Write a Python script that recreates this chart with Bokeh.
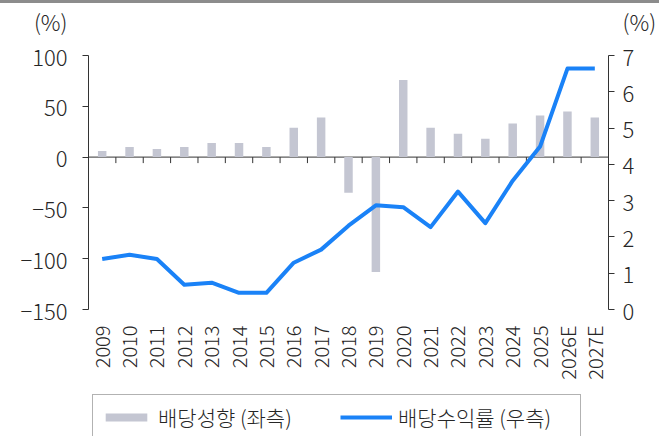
import numpy as np
from math import pi
from bokeh.plotting import figure
from bokeh.models import (Range1d, LinearAxis, FixedTicker, Legend, LegendItem, Span,
                          InlineStyleSheet)
from bokeh.core.properties import value
from bokeh.embed import file_html
from bokeh.resources import INLINE

years = ["2009", "2010", "2011", "2012", "2013", "2014", "2015", "2016", "2017",
         "2018", "2019", "2020", "2021", "2022", "2023", "2024", "2025", "2026E", "2027E"]
payout = [6, 10, 8, 10, 14, 14, 10, 29, 39, -35, -113, 76, 29, 23, 18, 33, 41, 45, 39]
div_yield = [1.39, 1.51, 1.39, 0.68, 0.74, 0.46, 0.46, 1.29, 1.65, 2.31, 2.87, 2.82,
             2.27, 3.25, 2.38, 3.55, 4.49, 6.64, 6.64]
left_ticks = [-150, -100, -50, 0, 50, 100]
right_ticks = [0, 1, 2, 3, 4, 5, 6, 7]
unit_text = "(%)"

FONT = '"Noto Sans CJK KR Light", "Noto Sans CJK KR"'
TXT = "#262626"
AX = "#333333"
n = len(years)
pos = [i + 0.5 for i in range(n)]
bounds = list(range(1, n))

# layout (pixels): plot height, value-axis top/bottom, unit caption row
H, W = 436, 666
TOP, BOT, CAP = 55, 309, 20
L_lo, L_hi = left_ticks[0], left_ticks[-1]
R_lo, R_hi = right_ticks[0], right_ticks[-1]
pxl = (BOT - TOP) / (L_hi - L_lo)
pxr = (BOT - TOP) / (R_hi - R_lo)
yr_left = Range1d(L_lo - (H - BOT) / pxl, L_hi + TOP / pxl)
yr_right = Range1d(R_lo - (H - BOT) / pxr, R_hi + TOP / pxr)
cap_left = L_hi + (TOP - CAP) / pxl
cap_right = R_hi + (TOP - CAP) / pxr

p = figure(width=W, height=H, x_range=Range1d(0, n), y_range=yr_left,
           output_backend="svg", toolbar_location=None, x_axis_location=None,
           y_axis_location=None,
           min_border_left=88, min_border_right=58, min_border_top=0, min_border_bottom=0)
p.extra_y_ranges = {"yld": yr_right}
p.grid.visible = False
p.outline_line_color = None
p.background_fill_color = "white"
p.border_fill_color = "white"
p.stylesheets = [InlineStyleSheet(css=(
    ":host { position: relative; }"
    ":host::after { content: ''; position: absolute; left: 0; top: 0; width: 659px;"
    " height: 3px; background: #8c8c8c; z-index: 10; pointer-events: none; }"))]

bars = p.vbar(x=pos, top=payout, bottom=0, width=0.31, fill_color="#C4C6D2", line_color=None)
# zero axis line with ticks at category boundaries
p.add_layout(Span(location=0, dimension="width", line_color=AX, line_width=1, level="underlay"))
p.ray(x=bounds, y=0, length=6, length_units="screen", angle=-pi / 2,
      line_color=AX, line_width=1)
ln = p.line(x=pos, y=div_yield, y_range_name="yld", line_color="#1A82F7", line_width=4,
            line_join="round")

# category labels under the plot area
p.text(x=pos, y=L_lo, text=years, angle=pi / 2, y_offset=16, text_align="right",
       text_baseline="middle", text_font=value(FONT), text_font_size="20px",
       text_color=TXT)

def line_axis(ticks, lo, hi, **kw):
    ax = LinearAxis(ticker=FixedTicker(ticks=ticks), bounds=(lo, hi),
                    major_label_overrides={t: "" for t in ticks}, **kw)
    ax.axis_line_color = AX
    ax.major_tick_line_color = AX
    ax.minor_tick_line_color = None
    ax.major_tick_in = 0
    ax.major_tick_out = 6
    ax.major_label_standoff = 0
    return ax

def label_axis(ticks, cap, standoff, **kw):
    ax = LinearAxis(ticker=FixedTicker(ticks=ticks + [cap]),
                    major_label_overrides={cap: unit_text}, **kw)
    ax.axis_line_color = None
    ax.major_tick_line_color = None
    ax.minor_tick_line_color = None
    ax.major_tick_in = 0
    ax.major_tick_out = 0
    ax.major_label_standoff = standoff
    ax.major_label_text_font = FONT
    ax.major_label_text_font_size = "22px"
    ax.major_label_text_color = TXT
    return ax

p.add_layout(line_axis(left_ticks, L_lo, L_hi), "left")
p.add_layout(label_axis(left_ticks, cap_left, 15), "left")
p.add_layout(line_axis(right_ticks, R_lo, R_hi, y_range_name="yld"), "right")
p.add_layout(label_axis(right_ticks, cap_right, 8, y_range_name="yld"), "right")

legend = Legend(items=[LegendItem(label="배당성향 (좌측)", renderers=[bars]),
                       LegendItem(label="배당수익률 (우측)", renderers=[ln])],
                orientation="horizontal", location=(4, -4),
                label_text_font=FONT, label_text_font_size="21px", label_text_color=TXT,
                glyph_width=52, glyph_height=10, label_standoff=6, spacing=7,
                padding=7, margin=0, border_line_color="#666666", border_line_width=1,
                label_width=175, background_fill_color="white")
p.add_layout(legend, "center")

open("out.html", "w").write(file_html(p, INLINE))
